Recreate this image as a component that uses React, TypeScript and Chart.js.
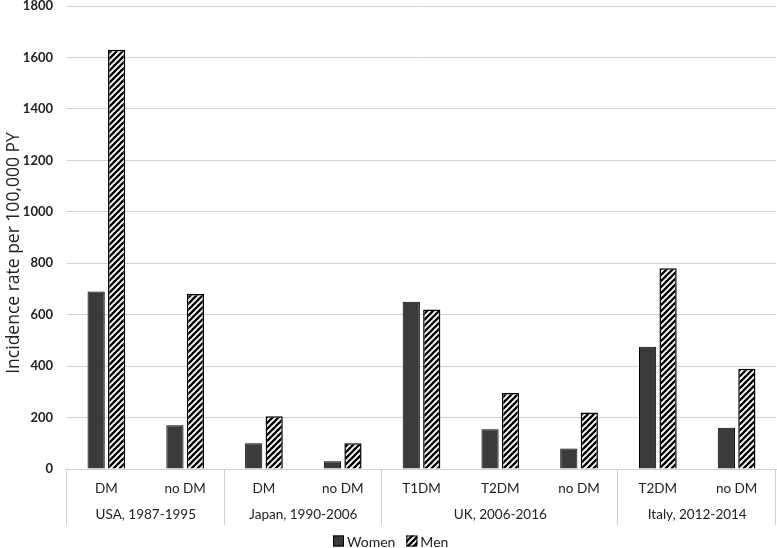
import React, { useEffect, useRef } from "react";
import { Chart, registerables } from "chart.js";

Chart.register(...registerables);

const subLabels = ["DM", "no DM", "DM", "no DM", "T1DM", "T2DM", "no DM", "T2DM", "no DM"];
const groupLabels = ["USA, 1987-1995", "Japan, 1990-2006", "UK, 2006-2016", "Italy, 2012-2014"];
const groupSizes = [2, 2, 3, 2];
const women = [690, 170, 100, 30, 650, 155, 80, 475, 160];
const men = [1630, 680, 205, 100, 620, 295, 220, 780, 390];
const yTicks = [0, 200, 400, 600, 800, 1000, 1200, 1400, 1600, 1800];
const seriesNames = ["Women", "Men"];
const yTitle = "Incidence rate per 100,000 PY";

const FONT = "Lato, 'Open Sans', sans-serif";

function makeHatch(): CanvasPattern | string {
  const c = document.createElement("canvas");
  c.width = 6;
  c.height = 6;
  const ctx = c.getContext("2d");
  if (!ctx) return "#000";
  ctx.fillStyle = "#fff";
  ctx.fillRect(0, 0, 6, 6);
  ctx.strokeStyle = "#000";
  ctx.lineWidth = 2.3;
  ctx.beginPath();
  ctx.moveTo(-1, 7);
  ctx.lineTo(7, -1);
  ctx.moveTo(-4, 4);
  ctx.lineTo(4, -4);
  ctx.moveTo(2, 10);
  ctx.lineTo(10, 2);
  ctx.stroke();
  const p = ctx.createPattern(c, "repeat");
  return p || "#000";
}

function makePlugin(fills: any[]) {
  return {
    id: "groupPlugin",
    afterDraw(chart: any) {
      const ctx = chart.ctx;
      const xs = chart.scales.x;
      const area = chart.chartArea;
      const n = subLabels.length;
      const w = (xs.right - xs.left) / n;
      const top = area.bottom;
      const bottom = area.bottom + 56;
      ctx.save();
      ctx.strokeStyle = "#d0d0d0";
      ctx.lineWidth = 1;
      let idx = 0;
      const bounds: number[] = [xs.left];
      for (const s of groupSizes) {
        idx += s;
        bounds.push(xs.left + idx * w);
      }
      for (const b of bounds) {
        const xx = Math.round(b) - 0.5;
        ctx.beginPath();
        ctx.moveTo(xx, top);
        ctx.lineTo(xx, bottom);
        ctx.stroke();
      }
      ctx.fillStyle = "#222";
      ctx.font = "13.5px " + FONT;
      ctx.textAlign = "center";
      ctx.textBaseline = "middle";
      for (let g = 0; g < groupLabels.length; g++) {
        const cx = (bounds[g] + bounds[g + 1]) / 2;
        ctx.fillText(groupLabels[g], cx, area.bottom + 46);
      }
      // y title
      ctx.save();
      ctx.translate(14, 253);
      ctx.rotate(-Math.PI / 2);
      ctx.font = "17.5px 'Open Sans', sans-serif";
      ctx.fillStyle = "#222";
      ctx.textAlign = "center";
      ctx.textBaseline = "middle";
      ctx.fillText(yTitle, 0, 0);
      ctx.restore();
      // legend
      ctx.font = "14px " + FONT;
      ctx.textAlign = "left";
      ctx.textBaseline = "middle";
      const box = 11;
      const gapText = 3;
      const gapItems = 11;
      const widths = seriesNames.map((s) => box + gapText + ctx.measureText(s).width);
      let lx = 333;
      const ly = 541;
      for (let i = 0; i < seriesNames.length; i++) {
        ctx.fillStyle = fills[i];
        ctx.fillRect(lx, ly - box / 2, box, box);
        ctx.strokeStyle = "#000";
        ctx.lineWidth = 1;
        ctx.strokeRect(lx + 0.5, ly - box / 2 + 0.5, box - 1, box - 1);
        ctx.fillStyle = "#222";
        ctx.fillText(seriesNames[i], lx + box + gapText, ly + 1);
        lx += widths[i] + gapItems;
      }
      ctx.restore();
    },
  };
}

export default function App() {
  const ref = useRef<HTMLCanvasElement>(null);
  useEffect(() => {
    document.body.style.margin = "0";
    if (!ref.current) return;
    const hatch = makeHatch();
    const chart = new Chart(ref.current, {
      type: "bar",
      data: {
        labels: subLabels,
        datasets: [
          {
            label: seriesNames[0],
            data: women,
            backgroundColor: "#3b3b3b",
            borderColor: "#000",
            borderWidth: 1,
            categoryPercentage: 0.52,
            barPercentage: 0.84,
          },
          {
            label: seriesNames[1],
            data: men,
            backgroundColor: hatch as any,
            borderColor: "#000",
            borderWidth: 1.5,
            categoryPercentage: 0.52,
            barPercentage: 0.84,
          },
        ],
      },
      options: {
        animation: false,
        responsive: false,
        maintainAspectRatio: false,
        layout: { padding: { left: 0, right: 1, top: 6, bottom: 0 } },
        plugins: {
          tooltip: { enabled: false },
          legend: { display: false },
        },
        scales: {
          x: {
            grid: { display: false },
            border: { display: true, color: "#d0d0d0" },
            ticks: { color: "#222", font: { family: FONT, size: 13.5 }, padding: 4 },
            afterFit: (scale: any) => {
              scale.height = 79;
            },
          },
          y: {
            min: 0,
            max: 1800,
            afterBuildTicks: (scale: any) => {
              scale.ticks = yTicks.map((v) => ({ value: v }));
            },
            afterFit: (scale: any) => {
              scale.width = 67;
              scale.paddingTop = 0;
              scale.paddingBottom = 0;
            },
            grid: { color: "#d0d0d0", drawTicks: false },
            border: { display: false },
            ticks: {
              color: "#222",
              padding: 14,
              font: { family: FONT, size: 13, weight: "bold" },
              callback: (v: any) => String(v),
            },
          },
        },
      },
      plugins: [makePlugin(["#3b3b3b", hatch])],
    });
    return () => chart.destroy();
  }, []);
  return <canvas ref={ref} width={777} height={548} style={{ display: "block" }} />;
}
